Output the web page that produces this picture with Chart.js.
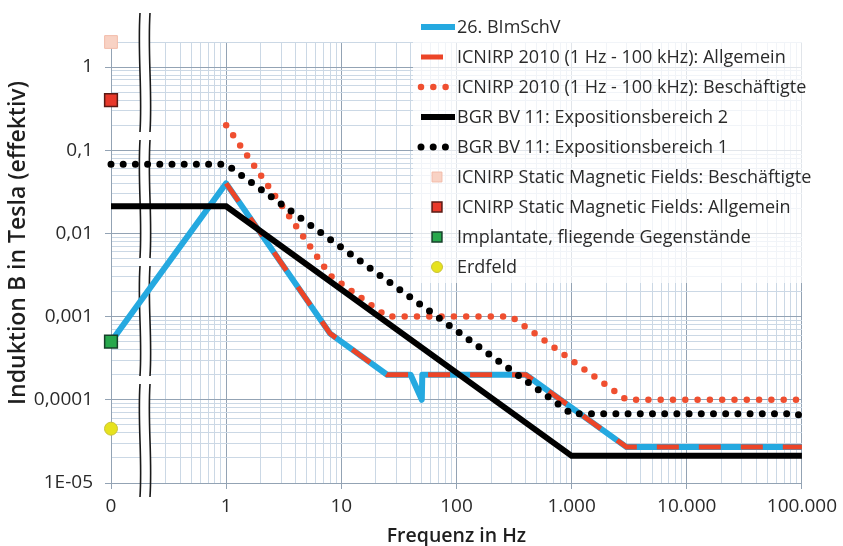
<!DOCTYPE html>
<html>
<head>
<meta charset="utf-8">
<script src="https://cdn.jsdelivr.net/npm/chart.js@4.4.1/dist/chart.umd.min.js"></script>
<style>
  html, body { margin: 0; padding: 0; background: #fff; }
</style>
</head>
<body>
<canvas id="limitsChart" width="843" height="546"></canvas>
<script>
// The "0" column is drawn at 0.1 Hz on the log axis
const zeroHz = 0.1;

// Axis ticks
const xTickValues = [0.1, 1, 10, 100, 1000, 10000, 100000];
const xTickLabels = ['0', '1', '10', '100', '1.000', '10.000', '100.000'];
const yTickValues = [0.00001, 0.0001, 0.001, 0.01, 0.1, 1];
const yTickLabels = ['1E-05', '0,0001', '0,001', '0,01', '0,1', '1'];
const yMax = 2;

// 26. BImSchV
const bimschvHz = [zeroHz, 1, 8, 25, 40, 50, 50.5, 400, 3000, 100000];
const bimschvT = [0.0005, 0.04, 0.000625, 0.0002, 0.0002, 0.0001, 0.0002, 0.0002, 0.000027, 0.000027];

// ICNIRP 2010 (1 Hz - 100 kHz)
const icnirpPublicHz = [1, 8, 25, 400, 3000, 100000];
const icnirpPublicT = [0.04, 0.000625, 0.0002, 0.0002, 0.000027, 0.000027];
const icnirpWorkersHz = [1, 8, 25, 300, 3000, 100000];
const icnirpWorkersT = [0.2, 0.003125, 0.001, 0.001, 0.0001, 0.0001];

// BGR BV 11
const bgr2Hz = [zeroHz, 1, 1000, 100000];
const bgr2T = [0.0212, 0.0212, 0.0000212, 0.0000212];
const bgr1Hz = [zeroHz, 1, 1000, 91000, 100000];
const bgr1T = [0.0679, 0.0679, 0.0000679, 0.0000679, 0.000061];

// Static values at 0 Hz
const staticWorkersT = [2];
const staticPublicT = [0.4];
const implantsT = [0.0005];
const earthFieldT = [0.000045];

const xTitle = 'Frequenz in Hz';
const yTitle = 'Induktion B in Tesla (effektiv)';

const MAJOR = '#93a3b4';
const MINOR = '#cbd8e5';
const TEXT = '#2a2a2a';

const toPoints = (xs, ys) => xs.map((x, i) => ({ x: x, y: ys[i] }));
const zeroPoints = ys => ys.map(y => ({ x: zeroHz, y: y }));
const isDecade = v => Math.abs(Math.log10(v) - Math.round(Math.log10(v))) < 1e-9;

function logGrid(decades, max) {
    const out = [];
    decades.forEach(d => {
        for (let k = 1; k <= 9; k++) {
            if (d * k <= max * 1.0001) out.push(d * k);
        }
    });
    return out;
}

function labelFor(values, labels, v) {
    const i = values.findIndex(t => Math.abs(t - v) / t < 1e-6);
    return i >= 0 ? labels[i] : '';
}

const datasets = [
    { label: '26. BImSchV', data: toPoints(bimschvHz, bimschvT), borderColor: '#25a9e0',
      borderWidth: 6, borderJoinStyle: 'round', order: 5 },
    { label: 'ICNIRP 2010 (1 Hz - 100 kHz): Allgemein', data: toPoints(icnirpPublicHz, icnirpPublicT),
      borderColor: '#ec4528', borderWidth: 5, borderDash: [22, 20], order: 4 },
    { label: 'ICNIRP 2010 (1 Hz - 100 kHz): Beschäftigte', data: toPoints(icnirpWorkersHz, icnirpWorkersT),
      borderColor: '#ef4f30', borderWidth: 6.5, borderDash: [0, 12.3], borderCapStyle: 'round', order: 3 },
    { label: 'BGR BV 11: Expositionsbereich 2', data: toPoints(bgr2Hz, bgr2T), borderColor: '#000',
      borderWidth: 6, order: 1 },
    { label: 'BGR BV 11: Expositionsbereich 1', data: toPoints(bgr1Hz, bgr1T), borderColor: '#000',
      borderWidth: 7, borderDash: [0, 12.2], borderCapStyle: 'round', order: 2 },
    { label: 'ICNIRP Static Magnetic Fields: Beschäftigte', data: zeroPoints(staticWorkersT), showLine: false,
      pointStyle: 'rect', pointRadius: 9, backgroundColor: '#f8d2c4', borderColor: '#f2bba9', pointBorderWidth: 1, order: 0 },
    { label: 'ICNIRP Static Magnetic Fields: Allgemein', data: zeroPoints(staticPublicT), showLine: false,
      pointStyle: 'rect', pointRadius: 9, backgroundColor: '#e8392b', borderColor: '#5a1a14', pointBorderWidth: 1.5, order: 0 },
    { label: 'Implantate, fliegende Gegenstände', data: zeroPoints(implantsT), showLine: false,
      pointStyle: 'rect', pointRadius: 9, backgroundColor: '#27a84c', borderColor: '#16402a', pointBorderWidth: 1.5, order: 0 },
    { label: 'Erdfeld', data: zeroPoints(earthFieldT), showLine: false,
      pointStyle: 'circle', pointRadius: 6.5, backgroundColor: '#e6e21e', borderColor: '#c9c23a', pointBorderWidth: 1, order: 0 }
];
datasets.forEach(ds => {
    if (ds.showLine !== false) { ds.showLine = true; ds.pointRadius = 0; ds.tension = 0; }
    ds.clip = false;
    ds.fill = false;
});

// Broken axis between 0 and 1
const axisBreak = {
    id: 'axisBreak',
    beforeDatasetsDraw(chart) {
        const ctx = chart.ctx;
        const area = chart.chartArea;
        const a = area.left + 29, b = area.left + 39;
        ctx.save();
        ctx.fillStyle = '#fff';
        ctx.fillRect(a, area.top, b - a, area.bottom - area.top);
        ctx.strokeStyle = '#1a1a1a';
        ctx.lineWidth = 1.6;
        const segs = [[13, 132], [140, 258], [266, 376], [384, 497]];
        [a, b].forEach(x => {
            segs.forEach(([y0, y1]) => {
                const h = y1 - y0;
                ctx.beginPath();
                ctx.moveTo(x, y0);
                ctx.bezierCurveTo(x - 2.5, y0 + h * 0.35, x + 2.5, y0 + h * 0.65, x, y1);
                ctx.stroke();
            });
        });
        ctx.restore();
    }
};

// Legend box and y title
const legendBox = {
    id: 'legendBox',
    afterDraw(chart) {
        const ctx = chart.ctx;
        const area = chart.chartArea;
        ctx.save();
        ctx.fillStyle = 'rgba(255,255,255,0.72)';
        ctx.fillRect(413, area.top, area.right - 413 + 1, 283 - area.top);

        const rowY = 27, rowGap = 30, x0 = 421, x1 = 455, tx = 457;
        chart.data.datasets.forEach((ds, i) => {
            const y = rowY + i * rowGap;
            if (ds.showLine) {
                ctx.save();
                ctx.beginPath();
                ctx.rect(x0 - 4, y - 6, x1 - x0 + 4, 12);
                ctx.clip();
                ctx.strokeStyle = ds.borderColor;
                ctx.lineWidth = ds.borderWidth;
                ctx.lineCap = ds.borderCapStyle || 'butt';
                ctx.setLineDash(ds.borderDash || []);
                ctx.beginPath();
                ctx.moveTo(x0, y);
                ctx.lineTo(x1, y);
                ctx.stroke();
                ctx.restore();
            } else {
                ctx.fillStyle = ds.backgroundColor;
                ctx.strokeStyle = ds.borderColor;
                ctx.lineWidth = ds.pointBorderWidth;
                Chart.helpers.drawPoint(ctx, {
                    pointStyle: ds.pointStyle,
                    radius: ds.pointStyle === 'rect' ? 7 : 5.5,
                    borderWidth: ds.pointBorderWidth,
                    rotation: 0
                }, 437, y);
            }
            ctx.fillStyle = TEXT;
            ctx.font = '18px "Open Sans"';
            ctx.textAlign = 'left';
            ctx.textBaseline = 'middle';
            ctx.fillText(ds.label, tx, y + 1);
        });

        ctx.translate(18, 243);
        ctx.rotate(-Math.PI / 2);
        ctx.font = '600 23px "Open Sans"';
        ctx.textAlign = 'center';
        ctx.textBaseline = 'middle';
        ctx.fillStyle = '#1e1e1e';
        ctx.fillText(yTitle, 0, 0);
        ctx.restore();
    }
};

const gridOpts = {
    color: c => (c.tick && isDecade(c.tick.value)) ? MAJOR : MINOR,
    tickColor: c => (c.tick && isDecade(c.tick.value)) ? MAJOR : 'rgba(0,0,0,0)',
    tickLength: 6,
    lineWidth: 1
};

new Chart(document.getElementById('limitsChart'), {
    type: 'scatter',
    data: { datasets: datasets },
    options: {
        responsive: false,
        animation: false,
        devicePixelRatio: 1,
        layout: { padding: { top: 42, right: 39, left: 0, bottom: 0 } },
        plugins: { legend: { display: false }, tooltip: { enabled: false } },
        scales: {
            x: {
                type: 'logarithmic',
                min: zeroHz,
                max: 100000,
                afterBuildTicks: scale => { scale.ticks = logGrid(xTickValues, 100000).map(v => ({ value: v })); },
                afterFit: scale => { scale.height = 63; },
                grid: gridOpts,
                border: { color: MAJOR },
                ticks: {
                    autoSkip: false, maxRotation: 0, padding: 6, color: TEXT,
                    font: { family: 'Open Sans', size: 19 },
                    callback: v => labelFor(xTickValues, xTickLabels, v)
                },
                title: {
                    display: true, text: xTitle, color: '#1e1e1e',
                    font: { family: 'Open Sans', size: 19.5, weight: '600', lineHeight: 1 },
                    padding: { top: 0, bottom: 0 }
                }
            },
            y: {
                type: 'logarithmic',
                min: 0.00001,
                max: yMax,
                afterBuildTicks: scale => { scale.ticks = logGrid(yTickValues, yMax).map(v => ({ value: v })); },
                afterFit: scale => { scale.width = 111; },
                grid: gridOpts,
                border: { color: MAJOR },
                ticks: {
                    autoSkip: false, padding: 12, color: TEXT,
                    font: { family: 'Open Sans', size: 19 },
                    callback: v => labelFor(yTickValues, yTickLabels, v)
                }
            }
        }
    },
    plugins: [axisBreak, legendBox]
});
</script>
</body>
</html>
